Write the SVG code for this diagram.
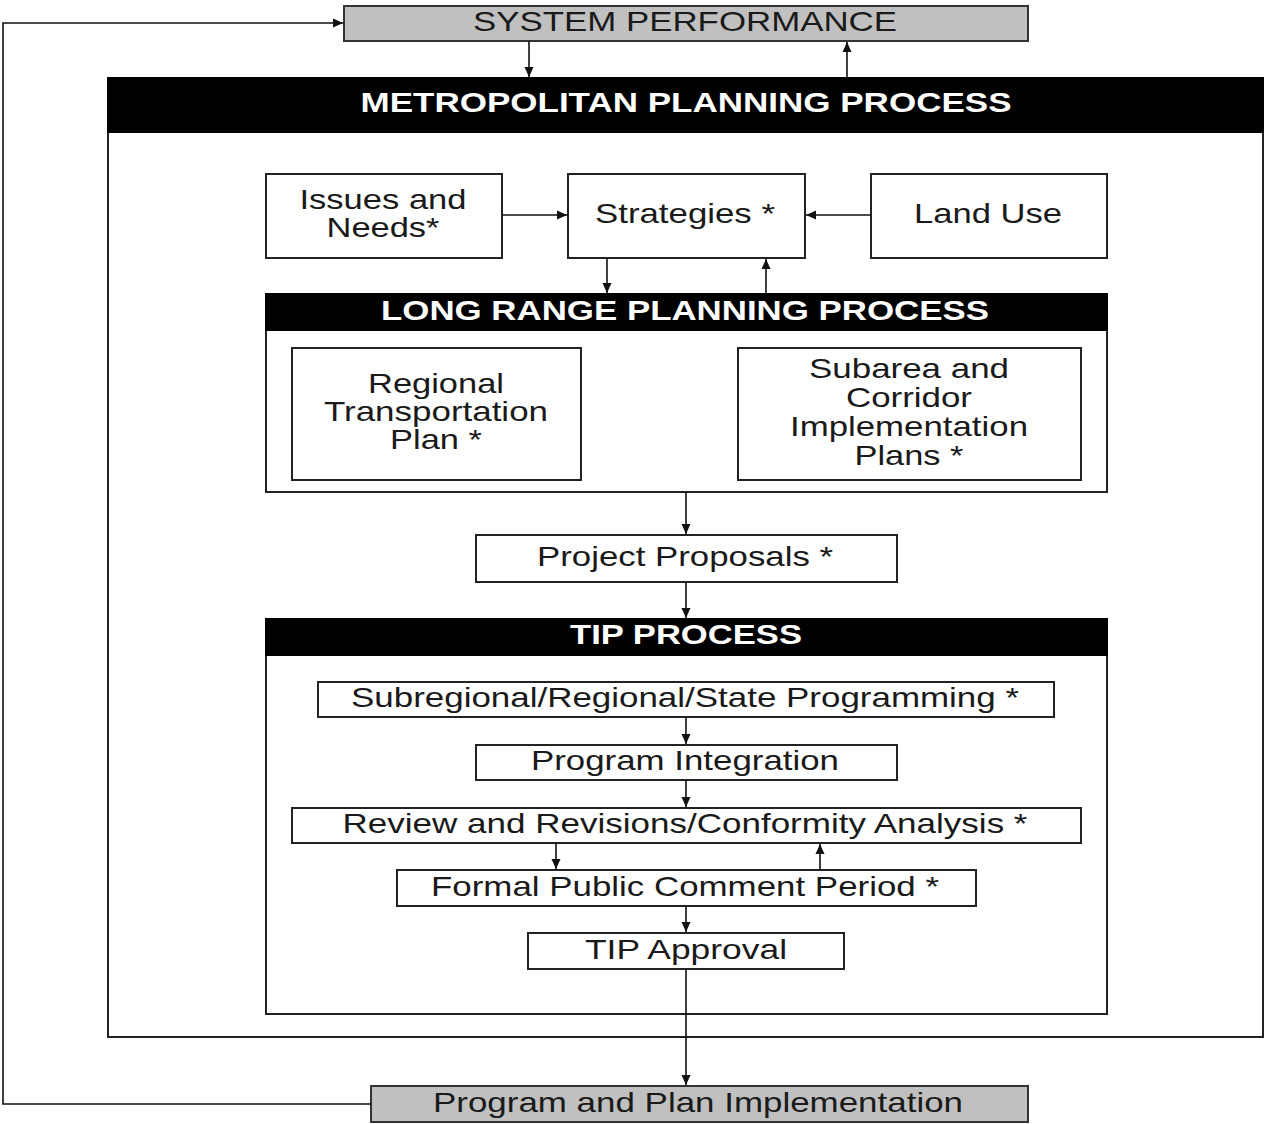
<svg xmlns="http://www.w3.org/2000/svg" width="1264" height="1124" viewBox="0 0 1264 1124">
<defs>
<marker id="ah" markerWidth="10" markerHeight="10" refX="10" refY="5" orient="auto" markerUnits="userSpaceOnUse">
<path d="M0,0.5 L10,5 L0,9.5 Z" fill="#111"/>
</marker>
<style>
.box{fill:#fff;stroke:#222;stroke-width:2}
.gray{fill:#c0c0c0;stroke:#333;stroke-width:2}
.hdr{fill:#000;stroke:#000;stroke-width:2}
.t{font-family:"Liberation Sans",Arial,sans-serif;font-size:28px;fill:#1a1a1a;text-anchor:middle}
.h{font-family:"Liberation Sans",Arial,sans-serif;font-size:28px;font-weight:bold;fill:#fff;text-anchor:middle}
.c{fill:none;stroke:#111;stroke-width:1.6}
</style>
</defs>
<rect width="1264" height="1124" fill="#fff"/>

<g id="metropolitan">
<rect class="box" x="108" y="78" width="1155" height="959"/>
<rect class="hdr" x="108" y="78" width="1155" height="54"/>
<text class="h" x="686" y="112" textLength="651" lengthAdjust="spacingAndGlyphs">METROPOLITAN PLANNING PROCESS</text>
</g>

<g id="system-performance">
<rect class="gray" x="344" y="6" width="684" height="35"/>
<text class="t" x="685" y="31" textLength="424" lengthAdjust="spacingAndGlyphs">SYSTEM PERFORMANCE</text>
</g>

<g id="issues">
<rect class="box" x="266" y="174" width="236" height="84"/>
<text class="t" x="383" y="209" textLength="167" lengthAdjust="spacingAndGlyphs">Issues and</text>
<text class="t" x="383" y="237" textLength="113" lengthAdjust="spacingAndGlyphs">Needs*</text>
</g>

<g id="strategies">
<rect class="box" x="568" y="174" width="237" height="84"/>
<text class="t" x="685" y="223" textLength="180" lengthAdjust="spacingAndGlyphs">Strategies *</text>
</g>

<g id="land-use">
<rect class="box" x="871" y="174" width="236" height="84"/>
<text class="t" x="988" y="223" textLength="148" lengthAdjust="spacingAndGlyphs">Land Use</text>
</g>

<g id="long-range">
<rect class="box" x="266" y="294" width="841" height="198"/>
<rect class="hdr" x="266" y="294" width="841" height="36"/>
<text class="h" x="685" y="320" textLength="608" lengthAdjust="spacingAndGlyphs">LONG RANGE PLANNING PROCESS</text>
</g>

<g id="regional-plan">
<rect class="box" x="292" y="348" width="289" height="132"/>
<text class="t" x="436" y="393" textLength="136" lengthAdjust="spacingAndGlyphs">Regional</text>
<text class="t" x="436" y="421" textLength="224" lengthAdjust="spacingAndGlyphs">Transportation</text>
<text class="t" x="436" y="449" textLength="92" lengthAdjust="spacingAndGlyphs">Plan *</text>
</g>

<g id="subarea">
<rect class="box" x="738" y="348" width="343" height="132"/>
<text class="t" x="909" y="378" textLength="200" lengthAdjust="spacingAndGlyphs">Subarea and</text>
<text class="t" x="909" y="407" textLength="126" lengthAdjust="spacingAndGlyphs">Corridor</text>
<text class="t" x="909" y="436" textLength="238" lengthAdjust="spacingAndGlyphs">Implementation</text>
<text class="t" x="909" y="465" textLength="109" lengthAdjust="spacingAndGlyphs">Plans *</text>
</g>

<g id="project-proposals">
<rect class="box" x="476" y="535" width="421" height="47"/>
<text class="t" x="685" y="566" textLength="296" lengthAdjust="spacingAndGlyphs">Project Proposals *</text>
</g>

<g id="tip-process">
<rect class="box" x="266" y="619" width="841" height="395"/>
<rect class="hdr" x="266" y="619" width="841" height="36"/>
<text class="h" x="686" y="644" textLength="232" lengthAdjust="spacingAndGlyphs">TIP PROCESS</text>
</g>

<g id="subregional">
<rect class="box" x="318" y="682" width="736" height="35"/>
<text class="t" x="685" y="707" textLength="668" lengthAdjust="spacingAndGlyphs">Subregional/Regional/State Programming *</text>
</g>

<g id="program-integration">
<rect class="box" x="476" y="745" width="421" height="35"/>
<text class="t" x="685" y="770" textLength="308" lengthAdjust="spacingAndGlyphs">Program Integration</text>
</g>

<g id="review">
<rect class="box" x="292" y="808" width="789" height="35"/>
<text class="t" x="685" y="833" textLength="685" lengthAdjust="spacingAndGlyphs">Review and Revisions/Conformity Analysis *</text>
</g>

<g id="public-comment">
<rect class="box" x="397" y="870" width="579" height="36"/>
<text class="t" x="685" y="896" textLength="508" lengthAdjust="spacingAndGlyphs">Formal Public Comment Period *</text>
</g>

<g id="tip-approval">
<rect class="box" x="528" y="933" width="316" height="36"/>
<text class="t" x="686" y="959" textLength="202" lengthAdjust="spacingAndGlyphs">TIP Approval</text>
</g>

<g id="implementation">
<rect class="gray" x="371" y="1086" width="657" height="36"/>
<text class="t" x="698" y="1112" textLength="530" lengthAdjust="spacingAndGlyphs">Program and Plan Implementation</text>
</g>

<g id="connectors">
<path class="c" d="M371,1104 H3 V23 H343" marker-end="url(#ah)"/>
<path class="c" d="M529,41 V77" marker-end="url(#ah)"/>
<path class="c" d="M847,78 V42" marker-end="url(#ah)"/>
<path class="c" d="M502,215 H567" marker-end="url(#ah)"/>
<path class="c" d="M871,215 H806" marker-end="url(#ah)"/>
<path class="c" d="M607,258 V293" marker-end="url(#ah)"/>
<path class="c" d="M766,294 V259" marker-end="url(#ah)"/>
<path class="c" d="M686,492 V534" marker-end="url(#ah)"/>
<path class="c" d="M686,582 V618" marker-end="url(#ah)"/>
<path class="c" d="M686,717 V744" marker-end="url(#ah)"/>
<path class="c" d="M686,780 V807" marker-end="url(#ah)"/>
<path class="c" d="M556,843 V869" marker-end="url(#ah)"/>
<path class="c" d="M820,870 V844" marker-end="url(#ah)"/>
<path class="c" d="M686,906 V932" marker-end="url(#ah)"/>
<path class="c" d="M686,969 V1085" marker-end="url(#ah)"/>
</g>
</svg>
